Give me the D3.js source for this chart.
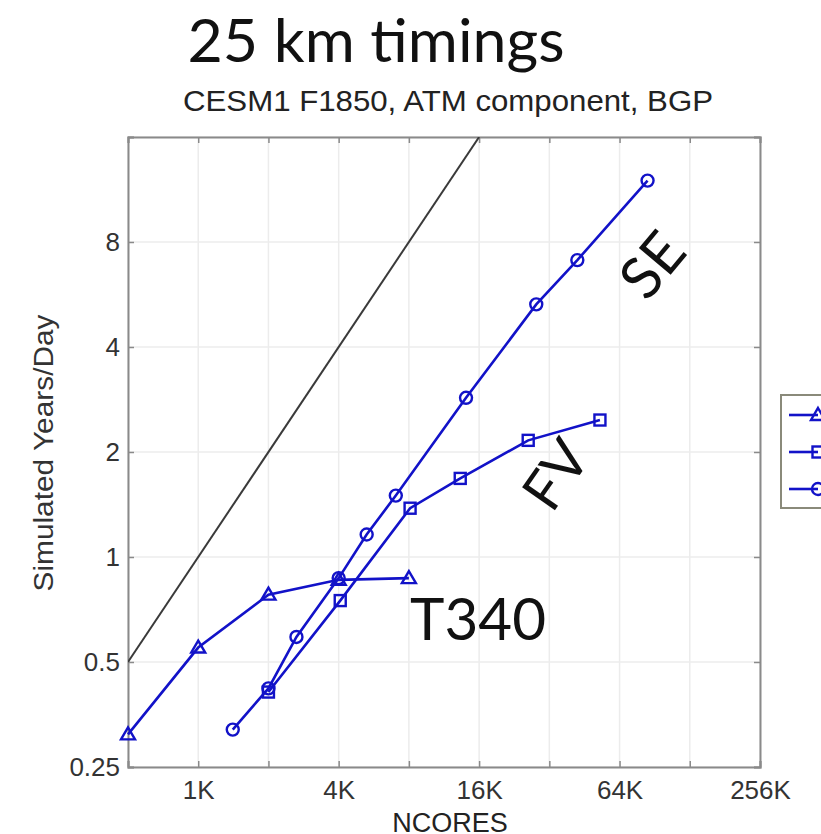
<!DOCTYPE html>
<html>
<head>
  <title>25 km timings</title>
  <script src="https://d3js.org/d3.v7.min.js"></script>
  <style type="text/css">
    body {
      margin: 0;
      background-color: #ffffff;
    }
    svg {
      display: block;
    }
  </style>
</head>
<body>
<div id="chart"></div>

<script>
  // data (cores, simulated years per day)
  var seCores = [1440, 2048, 2700, 4096, 5400, 7200, 14400, 28800, 43200, 86400];
  var seYPD = [0.32, 0.42, 0.59, 0.87, 1.16, 1.5, 2.86, 5.3, 7.1, 12.0];
  var fvCores = [2048, 4160, 8290, 13600, 26600, 54000];
  var fvYPD = [0.41, 0.75, 1.38, 1.68, 2.16, 2.47];
  var t340Cores = [512, 1024, 2048, 4096, 8192];
  var t340YPD = [0.31, 0.55, 0.78, 0.86, 0.87];
  // perfect scaling reference
  var idealCores = [512, 16384];
  var idealYPD = [0.5, 16];

  var xTicks = [512, 1024, 2048, 4096, 8192, 16384, 32768, 65536, 131072, 262144];
  var xTickLabels = ["", "1K", "", "4K", "", "16K", "", "64K", "", "256K"];
  var yTicks = [0.25, 0.5, 1, 2, 4, 8, 16];
  var yTickLabels = ["0.25", "0.5", "1", "2", "4", "8", ""];

  var W = 821, H = 834;
  var pLeft = 128, pRight = 760, pTop = 137, pBottom = 767;
  var blue = "#1212c8";

  var svg = d3.select("#chart").append("svg").attr("width", W).attr("height", H);

  var x = d3.scaleLog().base(2).domain([512, 262144]).range([pLeft, pRight]);
  var y = d3.scaleLog().base(2).domain([0.25, 16]).range([pBottom, pTop]);

  // grid
  svg.append("g").selectAll("line").data(xTicks).enter().append("line")
    .attr("x1", x).attr("x2", x).attr("y1", pTop).attr("y2", pBottom)
    .attr("stroke", "#ececec").attr("stroke-width", 1.5);
  svg.append("g").selectAll("line").data(yTicks).enter().append("line")
    .attr("x1", pLeft).attr("x2", pRight).attr("y1", y).attr("y2", y)
    .attr("stroke", "#ececec").attr("stroke-width", 1.5);

  // axes
  var xAxis = d3.axisBottom(x).tickValues(xTicks).tickSize(-6).tickPadding(13)
    .tickFormat(function (d, i) { return xTickLabels[i]; });
  var xTop = d3.axisTop(x).tickValues(xTicks).tickSize(-6).tickFormat("");
  var yAxis = d3.axisLeft(y).tickValues(yTicks).tickSize(-6).tickPadding(8)
    .tickFormat(function (d, i) { return yTickLabels[i]; });
  var yRight = d3.axisRight(y).tickValues(yTicks).tickSize(-6).tickFormat("");

  var gx = svg.append("g").attr("transform", "translate(0," + pBottom + ")").call(xAxis);
  svg.append("g").attr("transform", "translate(0," + pTop + ")").call(xTop);
  var gy = svg.append("g").attr("transform", "translate(" + pLeft + ",0)").call(yAxis);
  svg.append("g").attr("transform", "translate(" + pRight + ",0)").call(yRight);

  svg.selectAll(".domain").attr("stroke", "#8a8a8a").attr("stroke-width", 2);
  svg.selectAll(".tick line").attr("stroke", "#8a8a8a").attr("stroke-width", 1.5);
  svg.selectAll(".tick text").attr("fill", "#333").style("font-family", "Liberation Sans, Arial, sans-serif").style("font-size", "26px");
  gx.selectAll(".tick text").attr("dy", "0.72em");

  // clip to the plot box
  svg.append("clipPath").attr("id", "clip").append("rect")
    .attr("x", pLeft).attr("y", pTop).attr("width", pRight - pLeft).attr("height", pBottom - pTop);

  var line = d3.line().x(function (d) { return x(d[0]); }).y(function (d) { return y(d[1]); });

  svg.append("path").attr("clip-path", "url(#clip)")
    .datum(d3.zip(idealCores, idealYPD))
    .attr("d", line).attr("fill", "none").attr("stroke", "#3a3a3a").attr("stroke-width", 2);

  var series = [
    { name: "T340", pts: d3.zip(t340Cores, t340YPD), marker: "triangle" },
    { name: "FV", pts: d3.zip(fvCores, fvYPD), marker: "square" },
    { name: "SE", pts: d3.zip(seCores, seYPD), marker: "circle" }
  ];

  function drawMarker(g, type, cx, cy) {
    if (type == "circle") {
      g.append("circle").attr("cx", cx).attr("cy", cy).attr("r", 6);
    } else if (type == "square") {
      g.append("rect").attr("x", cx - 5.5).attr("y", cy - 5.5).attr("width", 11).attr("height", 11);
    } else {
      g.append("path").attr("d", "M" + cx + "," + (cy - 7) + "L" + (cx + 7) + "," + (cy + 5) + "L" + (cx - 7) + "," + (cy + 5) + "Z");
    }
  }

  series.forEach(function (s) {
    svg.append("path").datum(s.pts).attr("d", line)
      .attr("fill", "none").attr("stroke", blue).attr("stroke-width", 2.6);
    var gm = svg.append("g").attr("fill", "none").attr("stroke", blue).attr("stroke-width", 2.4);
    s.pts.forEach(function (p) { drawMarker(gm, s.marker, x(p[0]), y(p[1])); });
  });

  // legend, cut off by the right edge
  var lg = svg.append("g");
  lg.append("rect").attr("x", 781).attr("y", 395).attr("width", 80).attr("height", 113)
    .attr("fill", "#ffffff").attr("stroke", "#8a8a7a").attr("stroke-width", 2);
  series.forEach(function (s, i) {
    var ly = 415 + i * 37;
    lg.append("line").attr("x1", 789).attr("x2", 818).attr("y1", ly).attr("y2", ly)
      .attr("stroke", blue).attr("stroke-width", 2.6);
    var gm = lg.append("g").attr("fill", "none").attr("stroke", blue).attr("stroke-width", 2.4);
    drawMarker(gm, s.marker, 818, ly);
  });

  // titles
  svg.append("text").attr("x", 376).attr("y", 62).attr("text-anchor", "middle")
    .attr("textLength", 377).attr("lengthAdjust", "spacingAndGlyphs")
    .style("font-family", "Lato, sans-serif").style("font-size", "60px").attr("fill", "#111")
    .text("25 km timings");
  svg.append("text").attr("x", 448).attr("y", 111).attr("text-anchor", "middle")
    .attr("textLength", 530).attr("lengthAdjust", "spacingAndGlyphs")
    .style("font-family", "Liberation Sans, Arial, sans-serif").style("font-size", "29px").attr("fill", "#222")
    .text("CESM1 F1850, ATM component, BGP");

  svg.append("text").attr("transform", "translate(53,453) rotate(-90)").attr("text-anchor", "middle")
    .attr("textLength", 277).attr("lengthAdjust", "spacingAndGlyphs")
    .style("font-family", "Liberation Sans, Arial, sans-serif").style("font-size", "27px").attr("fill", "#333")
    .text("Simulated Years/Day");
  svg.append("text").attr("x", 450).attr("y", 832).attr("text-anchor", "middle")
    .style("font-family", "Liberation Sans, Arial, sans-serif").style("font-size", "27px").attr("fill", "#222")
    .text("NCORES");

  // labels on the lines
  svg.append("text").attr("transform", "translate(668,278) rotate(-50)").attr("text-anchor", "middle")
    .style("font-family", "Lato, sans-serif").style("font-size", "58px").attr("fill", "#111").text("SE");
  svg.append("text").attr("transform", "translate(572,486) rotate(-55)").attr("text-anchor", "middle")
    .style("font-family", "Lato, sans-serif").style("font-size", "56px").attr("fill", "#111").text("FV");
  svg.append("text").attr("x", 478).attr("y", 640).attr("text-anchor", "middle")
    .attr("textLength", 136).attr("lengthAdjust", "spacingAndGlyphs")
    .style("font-family", "Lato, sans-serif").style("font-size", "58px").attr("fill", "#111").text("T340");
</script>

</body>
</html>
